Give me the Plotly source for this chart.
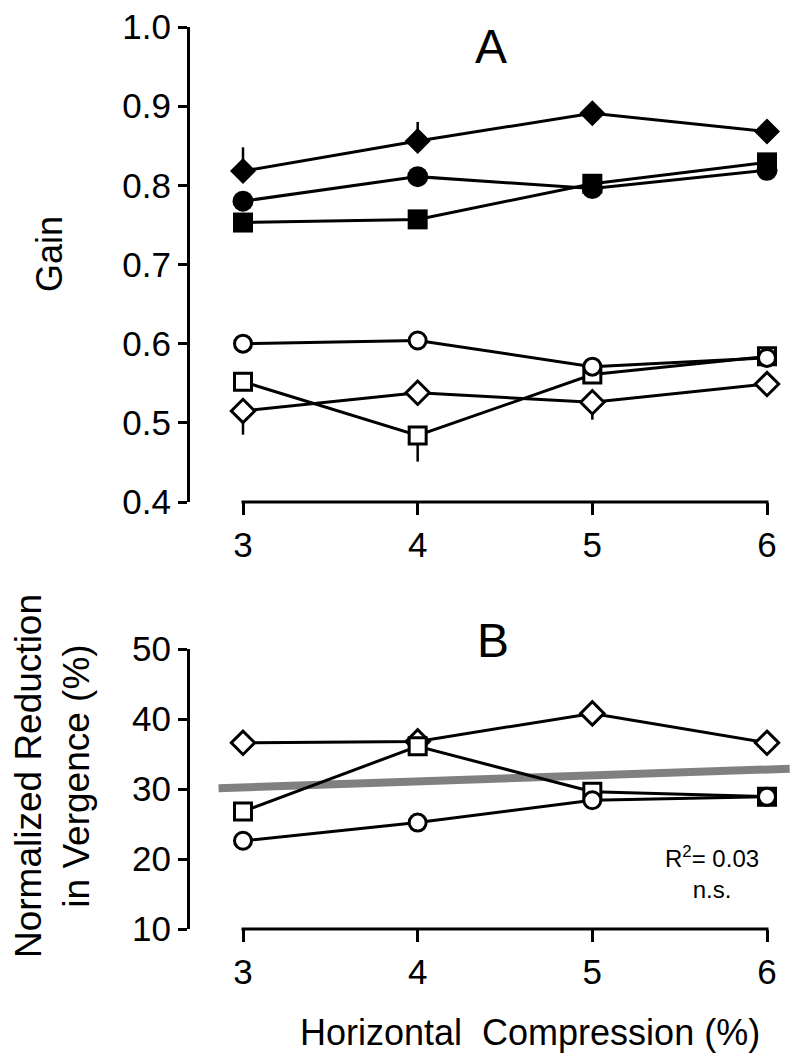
import plotly.graph_objects as go

# ---------------- data ----------------
compression = [3, 4, 5, 6]

# Panel A: gain
gain_filled_diamond = [0.818, 0.856, 0.891, 0.868]
gain_filled_diamond_err = [0.030, 0.024, 0.0, 0.0]
gain_filled_circle = [0.780, 0.811, 0.796, 0.819]
gain_filled_square = [0.753, 0.757, 0.802, 0.829]
gain_open_circle = [0.600, 0.604, 0.571, 0.582]
gain_open_square = [0.552, 0.484, 0.561, 0.584]
gain_open_square_err = [0.0, 0.033, 0.0, 0.0]
gain_open_diamond = [0.515, 0.538, 0.526, 0.549]
gain_open_diamond_err = [0.030, 0.0, 0.022, 0.0]

# Panel B: normalized reduction in vergence (%)
red_open_diamond = [36.6, 36.8, 40.8, 36.6]
red_open_square = [26.8, 36.1, 29.6, 28.9]
red_open_circle = [22.6, 25.2, 28.4, 28.9]
fit_x = [2.86, 6.13]
fit_y = [30.1, 32.9]

gain_ticks = [0.4, 0.5, 0.6, 0.7, 0.8, 0.9, 1.0]
gain_ticklabels = ["0.4", "0.5", "0.6", "0.7", "0.8", "0.9", "1.0"]
red_ticks = [10, 20, 30, 40, 50]
red_ticklabels = ["10", "20", "30", "40", "50"]
x_ticks = [3, 4, 5, 6]
x_ticklabels = ["3", "4", "5", "6"]

# ---------------- layout geometry (pixels) ----------------
W, H = 800, 1057
FONT = "Liberation Sans, Arial, Helvetica, sans-serif"
plot_left, plot_right = 190, 798
x3_px, x6_px = 243, 767
per_unit = (x6_px - x3_px) / 3.0
xr0 = 3 - (x3_px - plot_left) / per_unit
xr1 = 6 + (plot_right - x6_px) / per_unit
a_top, a_bot = 27, 502
b_top, b_bot = 649, 929


def px(x):
    return x / W


def py(y):
    return 1 - y / H


def xdata_to_px(v):
    return plot_left + (v - xr0) * per_unit


fig = go.Figure()


def add_series(x, y, symbol, filled, xa, ya, err_plus=None, err_minus=None, size=19):
    marker = dict(symbol=symbol, size=size,
                  color="black" if filled else "white",
                  line=dict(color="black", width=0 if filled else 3))
    tr = dict(x=x, y=y, mode="lines+markers", xaxis=xa, yaxis=ya,
              line=dict(color="black", width=3), marker=marker,
              showlegend=False, cliponaxis=False, hoverinfo="skip")
    if err_plus is not None or err_minus is not None:
        tr["error_y"] = dict(type="data", symmetric=False,
                             array=err_plus if err_plus is not None else [0] * len(x),
                             arrayminus=err_minus if err_minus is not None else [0] * len(x),
                             color="black", thickness=2.5, width=0)
    fig.add_trace(go.Scatter(**tr))


# Panel A traces
add_series(compression, gain_open_diamond, "diamond", False, "x", "y",
           err_minus=gain_open_diamond_err, size=18)
add_series(compression, gain_open_square, "square", False, "x", "y",
           err_minus=gain_open_square_err, size=17)
add_series(compression, gain_open_circle, "circle", False, "x", "y", size=17)
add_series(compression, gain_filled_square, "square", True, "x", "y", size=20)
add_series(compression, gain_filled_circle, "circle", True, "x", "y", size=21)
add_series(compression, gain_filled_diamond, "diamond", True, "x", "y",
           err_plus=gain_filled_diamond_err, size=20)

# Panel B traces
fig.add_trace(go.Scatter(x=fit_x, y=fit_y, mode="lines", xaxis="x2", yaxis="y2",
                         line=dict(color="#808080", width=8), showlegend=False,
                         hoverinfo="skip"))
add_series(compression, red_open_diamond, "diamond", False, "x2", "y2", size=18)
add_series(compression, red_open_square, "square", False, "x2", "y2", size=17)
add_series(compression, red_open_circle, "circle", False, "x2", "y2", size=17)

data_x = dict(range=[xr0, xr1], domain=[px(plot_left), px(plot_right)],
              showline=False, showgrid=False, zeroline=False, fixedrange=True,
              ticks="outside", ticklen=12, tickwidth=3, tickcolor="black",
              tickvals=x_ticks, ticktext=x_ticklabels,
              tickfont=dict(family=FONT, size=35, color="black"))

yaxis_common = dict(showline=True, linewidth=3, linecolor="black", ticks="outside",
                    ticklen=9, tickwidth=3, tickcolor="black", showgrid=False,
                    zeroline=False, fixedrange=True,
                    tickfont=dict(family=FONT, size=35, color="black"))

fig.update_layout(
    width=W, height=H, margin=dict(l=0, r=0, t=0, b=0, autoexpand=False),
    paper_bgcolor="white", plot_bgcolor="white",
    font=dict(family=FONT, color="black"),
    xaxis=dict(data_x, anchor="y"),
    xaxis2=dict(data_x, anchor="y2"),
    yaxis=dict(yaxis_common, range=[0.4, 1.0], domain=[py(a_bot), py(a_top)],
               tickvals=gain_ticks, ticktext=gain_ticklabels, anchor="x"),
    yaxis2=dict(yaxis_common, range=[10, 50], domain=[py(b_bot), py(b_top)],
                tickvals=red_ticks, ticktext=red_ticklabels, anchor="x2"),
)

# detached x-axis baselines spanning first..last tick (Prism style)
for ybot in (a_bot, b_bot):
    fig.add_shape(type="line", xref="paper", yref="paper",
                  x0=px(xdata_to_px(x_ticks[0]) - 1.5), x1=px(xdata_to_px(x_ticks[-1]) + 1.5),
                  y0=py(ybot), y1=py(ybot), line=dict(color="black", width=3), layer="above")

annots = [
    dict(text="A", x=px(491), y=py(47), size=48, angle=0),
    dict(text="B", x=px(493), y=py(640), size=48, angle=0),
    dict(text="Gain", x=px(49), y=py(254), size=36, angle=-90),
    dict(text="Normalized Reduction<br>in Vergence (%)", x=px(52), y=py(776), size=37, angle=-90),
    dict(text="Horizontal  Compression (%)", x=px(530), y=py(1032), size=36, angle=0),
    dict(text="R<sup>2</sup>= 0.03<br>n.s.", x=px(712), y=py(872), size=24, angle=0),
]
for a in annots:
    fig.add_annotation(text=a["text"], x=a["x"], y=a["y"], xref="paper", yref="paper",
                       xanchor="center", yanchor="middle", showarrow=False,
                       textangle=a["angle"], font=dict(family=FONT, size=a["size"], color="black"))

fig.write_html("out.html", config={"displayModeBar": False},
               post_script="document.body.style.margin='0';")
